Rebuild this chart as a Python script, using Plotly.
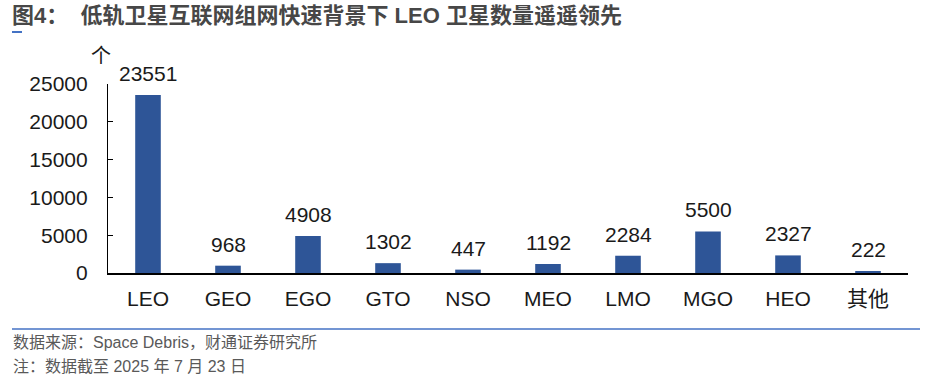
import plotly.graph_objects as go

categories = ["LEO", "GEO", "EGO", "GTO", "NSO", "MEO", "LMO", "MGO", "HEO", "其他"]
values = [23551, 968, 4908, 1302, 447, 1192, 2284, 5500, 2327, 222]
y_ticks = [0, 5000, 10000, 15000, 20000, 25000]

W, H = 929, 376
ML, MR, MT, MB = 108, 21, 84, 103
FONT = "Liberation Sans, Arial, Noto Sans CJK SC, sans-serif"

fig = go.Figure(go.Bar(
    x=categories, y=values, width=0.32,
    marker=dict(color="#2E5597", line=dict(width=0)),
))

fig.update_layout(
    width=W, height=H,
    margin=dict(l=ML, r=MR, t=MT, b=MB, pad=0),
    plot_bgcolor="white", paper_bgcolor="white",
    showlegend=False,
    xaxis=dict(showline=True, linecolor="#000000", linewidth=1.5,
               ticks="", showgrid=False, zeroline=False,
               tickfont=dict(family=FONT, size=21, color="#1a1a1a"),
               ticklabelstandoff=6),
    yaxis=dict(range=[0, 25000], tickvals=y_ticks, ticktext=[str(t) for t in y_ticks],
               showline=True, linecolor="#000000", linewidth=1.2,
               ticks="inside", ticklen=5, tickcolor="#000000", tickwidth=1,
               showgrid=False, zeroline=False,
               tickfont=dict(family=FONT, size=21, color="#1a1a1a"),
               ticklabelstandoff=15),
)

def px_x(x):
    return (x - ML) / (W - ML - MR)

def px_y(y):
    return 1 - (y - MT) / (H - MT - MB)

fig.update_layout(shapes=[
    dict(type="line", xref="paper", yref="paper",
         x0=px_x(12), x1=px_x(920), y0=px_y(329), y1=px_y(329),
         line=dict(color="#4472C4", width=1.5)),
    dict(type="line", xref="paper", yref="paper",
         x0=px_x(12), x1=px_x(22), y0=px_y(32), y1=px_y(32),
         line=dict(color="#4472C4", width=2)),
])

annots = [
    dict(text="<b>图4：  低轨卫星互联网组网快速背景下 LEO 卫星数量遥遥领先</b>",
         x=px_x(10), y=px_y(15), xanchor="left", yanchor="middle",
         xref="paper", yref="paper",
         font=dict(family=FONT, size=22, color="#474747")),
    dict(text="个", x=px_x(101), y=px_y(56), xanchor="center", yanchor="middle",
         xref="paper", yref="paper",
         font=dict(family=FONT, size=20, color="#1a1a1a")),
    dict(text="数据来源：Space Debris，财通证券研究所",
         x=px_x(11), y=px_y(342), xanchor="left", yanchor="middle",
         xref="paper", yref="paper",
         font=dict(family=FONT, size=16, color="#595959")),
    dict(text="注：数据截至 2025 年 7 月 23 日",
         x=px_x(11), y=px_y(366), xanchor="left", yanchor="middle",
         xref="paper", yref="paper",
         font=dict(family=FONT, size=16, color="#595959")),
]
for c, v in zip(categories, values):
    annots.append(dict(text=str(v), x=c, y=v, xref="x", yref="y",
                       xanchor="center", yanchor="bottom", yshift=8,
                       font=dict(family=FONT, size=21, color="#1a1a1a")))
for a in annots:
    a.update(showarrow=False)
fig.update_layout(annotations=annots)

fig.write_html("out.html", config={"displayModeBar": False},
               post_script="document.body.style.margin='0';document.body.style.padding='0';")
